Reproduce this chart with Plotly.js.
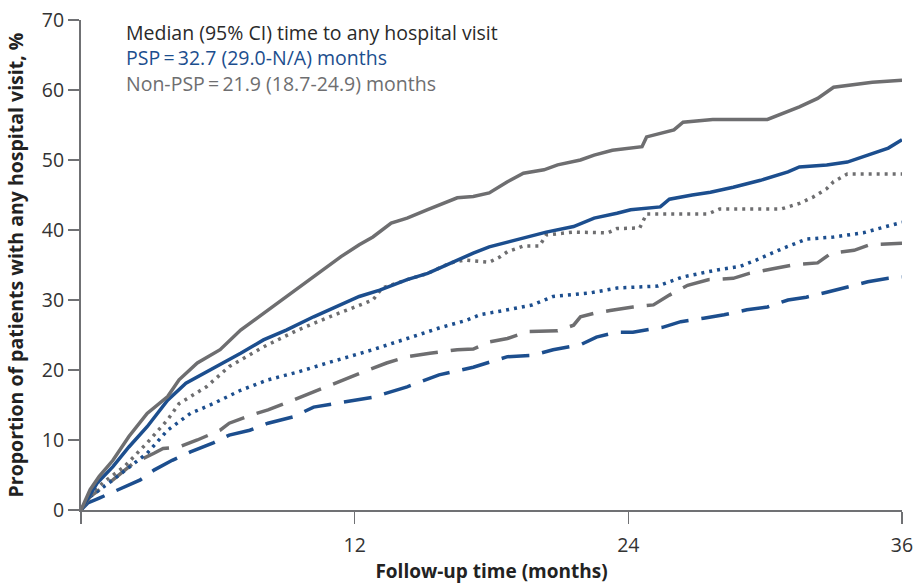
<!DOCTYPE html>
<html>
<head>
<meta charset="utf-8">
<script src="https://cdn.plot.ly/plotly-3.0.1.min.js"></script>
<style>html,body{margin:0;padding:0;background:#fff;}#chart{width:917px;height:584px;}</style>
</head>
<body>
<div id="chart"></div>
<script>
// Non-PSP, any hospital visit (solid grey)
const nonPspAnyX = [0,0.4,0.8,1.4,2.1,2.9,3.8,4.3,5.1,6.1,7.0,8.0,9.0,10.2,11.4,12.2,12.8,13.6,14.3,15.2,15.7,16.5,17.2,17.9,18.7,19.4,20.3,20.9,21.9,22.5,23.3,24.6,24.8,26.0,26.4,27.7,30.1,30.8,31.5,32.3,33.0,34.7,36];
const nonPspAnyY = [0,2.9,4.8,7.1,10.5,13.8,16.2,18.6,21.0,22.9,25.7,28.1,30.4,33.3,36.2,37.9,39.0,41.0,41.7,42.9,43.6,44.6,44.8,45.3,46.9,48.1,48.6,49.3,50.0,50.7,51.4,51.9,53.3,54.3,55.4,55.8,55.8,56.7,57.6,58.8,60.4,61.1,61.4];
// PSP, any hospital visit (solid blue)
const pspAnyX = [0,0.7,1.4,2.1,2.9,3.8,4.6,5.8,7.0,8.0,9.0,10.2,11.4,12.2,13.1,14.3,15.2,16.2,17.2,17.9,18.7,19.4,20.4,21.6,22.5,23.5,24.1,25.4,25.8,26.8,27.6,28.6,29.8,31.0,31.5,32.7,33.6,34.5,35.4,36];
const pspAnyY = [0,3.8,6.2,9.0,11.9,15.7,18.1,20.2,22.4,24.3,25.7,27.6,29.3,30.5,31.4,32.9,33.8,35.3,36.7,37.6,38.3,38.8,39.7,40.5,41.7,42.4,42.9,43.3,44.4,45.0,45.4,46.1,47.1,48.3,49.0,49.3,49.7,50.7,51.7,52.9];
// Non-PSP dotted (grey)
const nonPspDotX = [0,0.5,1.0,1.9,2.9,3.8,4.3,5.5,6.5,8.0,9.5,10.9,12.8,13.2,14.3,15.2,16.2,16.8,17.9,18.4,18.7,19.4,20.1,20.4,21.6,23.1,23.5,24.5,24.8,27.5,28.0,30.7,31.5,32.1,32.7,33.0,33.6,36];
const nonPspDotY = [0,2.5,4.0,6.2,9.6,12.9,15.2,17.6,20.5,23.3,25.7,27.6,30.0,31.7,32.9,33.8,35.3,35.7,35.4,36.2,36.9,37.7,37.7,39.3,39.7,39.6,40.2,40.3,42.3,42.3,43.0,43.0,43.8,44.7,45.9,46.9,48.0,48.0];
// PSP dotted (blue)
const pspDotX = [0,0.4,1.4,2.9,3.8,4.8,5.8,7.0,8.2,9.5,10.9,12.8,14.3,15.7,16.9,17.5,18.7,19.8,20.7,22.3,23.5,25.3,26.4,27.9,28.9,29.6,30.8,31.8,33.0,34.3,35.2,36];
const pspDotY = [0,1.9,4.3,8.1,11.4,13.8,15.2,17.1,18.6,19.7,21.1,22.9,24.5,26.0,27.1,27.9,28.6,29.3,30.5,31.0,31.7,32.0,33.3,34.3,34.8,35.7,37.4,38.7,39.0,39.6,40.4,41.1];
// Non-PSP dashed (grey)
const nonPspDashX = [0,0.4,1.4,2.3,3.2,3.6,4.3,5.1,6.1,6.5,7.5,8.2,9.3,10.2,11.1,12.2,13.4,14.3,15.3,16.5,17.2,17.9,18.7,19.6,20.9,21.6,21.9,22.5,23.2,24.2,25.1,25.8,26.6,27.5,28.6,29.3,30.4,31.2,32.3,32.9,33.9,34.6,36];
const nonPspDashY = [0,1.9,4.3,6.7,8.1,8.8,9.0,10.0,11.4,12.4,13.6,14.3,15.7,16.9,18.1,19.5,21.0,21.9,22.4,22.9,23.0,24.0,24.5,25.5,25.6,26.4,27.6,28.1,28.5,29.0,29.3,30.7,32.1,32.9,33.1,33.8,34.5,35.0,35.3,36.7,37.1,37.9,38.1];
// PSP dashed (blue)
const pspDashX = [0,0.3,0.8,1.6,2.6,3.2,4.0,4.8,5.8,6.5,7.4,8.2,9.3,10.2,11.5,12.8,14.3,15.7,17.2,18.7,19.8,20.7,21.9,22.6,23.5,24.2,25.5,26.3,27.3,28.2,29.2,30.1,31.0,31.8,32.7,33.6,34.5,35.4,36];
const pspDashY = [0,1.0,1.7,2.9,4.3,5.7,7.1,8.3,9.6,10.7,11.4,12.4,13.3,14.7,15.4,16.1,17.6,19.3,20.4,21.9,22.1,22.9,23.6,24.7,25.4,25.4,26.1,26.9,27.4,27.9,28.6,29.0,30.0,30.4,31.1,31.9,32.6,33.1,33.3];

const xTickVals = [0,12,24,36];
const xTickText = ['', '12', '24', '36'];
const yTickVals = [0,10,20,30,40,50,60,70];

const BLUE = '#1c4e8e';
const GREY = '#6e6e70';
const AXIS = '#707174';
const FONT = 'Open Sans, Noto Sans, sans-serif';

function tr(x, y, color, dash, width) {
  return {x: x, y: y, type: 'scatter', mode: 'lines',
    line: {color: color, width: width, dash: dash, shape: 'linear'},
    hoverinfo: 'skip', showlegend: false};
}

const data = [
  tr(pspDashX, pspDashY, BLUE, '28px,13px', 3.5),
  tr(nonPspDashX, nonPspDashY, GREY, '28px,13px', 3.5),
  tr(pspDotX, pspDotY, BLUE, '3px,5px', 3.5),
  tr(nonPspDotX, nonPspDotY, GREY, '3px,5px', 3.5),
  tr(pspAnyX, pspAnyY, BLUE, 'solid', 3.5),
  tr(nonPspAnyX, nonPspAnyY, GREY, 'solid', 3.5)
];

const noteText = 'Median (95% CI) time to any hospital visit<br>' +
  '<span style="color:' + BLUE + '">PSP\u2009=\u200932.7 (29.0-N/A) months</span><br>' +
  '<span style="color:' + GREY + '">Non-PSP\u2009=\u200921.9 (18.7-24.9) months</span>';

const layout = {
  width: 917, height: 584,
  margin: {l: 81, r: 15, t: 20, b: 74},
  paper_bgcolor: '#fff', plot_bgcolor: '#fff',
  font: {family: FONT, size: 19, color: '#333'},
  xaxis: {
    range: [0, 36], tickvals: xTickVals, ticktext: xTickText,
    showgrid: false, zeroline: false, showline: true, linecolor: AXIS, linewidth: 2,
    ticks: 'outside', ticklen: 12, tickwidth: 1.5, tickcolor: AXIS, ticklabelstandoff: 5,
    tickfont: {family: FONT, size: 19.5, color: '#333'},
    title: {text: '<b>Follow-up time (months)</b>', font: {family: FONT, size: 19, color: '#222'}, standoff: 8}
  },
  yaxis: {
    range: [0, 70], tickvals: yTickVals,
    showgrid: false, zeroline: false, showline: true, linecolor: AXIS, linewidth: 2,
    ticks: 'outside', ticklen: 11, tickwidth: 1.5, tickcolor: AXIS,
    tickfont: {family: FONT, size: 19.5, color: '#333'},
    title: {text: '<b>Proportion of patients with any hospital visit, %</b>', font: {family: FONT, size: 19.5, color: '#222'}, standoff: 13}
  },
  annotations: [
    {xref: 'paper', yref: 'paper', x: 0.052, y: 0.922, xanchor: 'left', yanchor: 'middle', align: 'left', showarrow: false,
     text: noteText, font: {family: FONT, size: 19.5, color: '#2a2a2a'}}
  ]
};

Plotly.newPlot('chart', data, layout, {displayModeBar: false, staticPlot: true});
</script>
</body>
</html>
